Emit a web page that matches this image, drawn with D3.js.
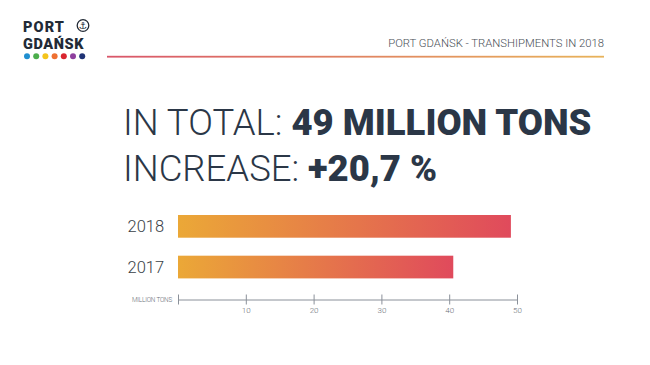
<!DOCTYPE html>
<html>
<head>
<meta charset="utf-8">
<script src="https://cdn.jsdelivr.net/npm/d3@7"></script>
<style>
  body { margin: 0; background: #fff; }
  svg { display: block; font-family: Roboto, "Open Sans", sans-serif; }
</style>
</head>
<body>
<svg id="chart"></svg>
<script>
// data
var years = ["2018", "2017"];
var tons = [49.1, 40.6];
var tickValues = [0, 10, 20, 30, 40, 50];
var dotColors = ["#1f8fd0", "#4cae4c", "#f4c41c", "#ee7032", "#d9252f", "#8e3f9e", "#1f3375"];

var svgWidth = 650;
var svgHeight = 365;

var svg = d3.select("#chart")
  .attr("width", svgWidth)
  .attr("height", svgHeight);

var defs = svg.append("defs");

// one gradient per bar, running over its own length
var barGrad = defs.append("linearGradient")
  .attr("id", "barGrad")
  .attr("x1", "0%").attr("x2", "100%").attr("y1", "0%").attr("y2", "0%");
barGrad.append("stop").attr("offset", "0%").attr("stop-color", "#eba837");
barGrad.append("stop").attr("offset", "100%").attr("stop-color", "#e04a5c");

var lineGrad = defs.append("linearGradient")
  .attr("id", "lineGrad")
  .attr("x1", "0%").attr("x2", "100%");
lineGrad.append("stop").attr("offset", "0%").attr("stop-color", "#d9566a");
lineGrad.append("stop").attr("offset", "100%").attr("stop-color", "#e8b35a");

// logo
var logo = svg.append("g");
logo.append("text")
  .attr("x", 23).attr("y", 31.5)
  .attr("font-size", 14.5).attr("font-weight", 900)
  .attr("letter-spacing", 1.1)
  .attr("fill", "#222a36")
  .text("PORT");
logo.append("text")
  .attr("x", 23).attr("y", 49)
  .attr("font-size", 14.5).attr("font-weight", 900)
  .attr("letter-spacing", 0.6)
  .attr("fill", "#222a36")
  .text("GDAŃSK");
logo.append("circle")
  .attr("cx", 83).attr("cy", 25.5).attr("r", 5.8)
  .attr("fill", "none").attr("stroke", "#222a36").attr("stroke-width", 1.3);
logo.append("text")
  .attr("x", 83).attr("y", 29.3)
  .attr("text-anchor", "middle")
  .attr("font-size", 9.5).attr("font-family", "DejaVu Sans")
  .attr("fill", "#222a36")
  .text("⚓");
logo.selectAll("circle.dot")
  .data(dotColors)
  .enter()
  .append("circle")
  .attr("class", "dot")
  .attr("cx", function(d, i) { return 27 + i * 9.2; })
  .attr("cy", 56.3)
  .attr("r", 3)
  .attr("fill", function(d) { return d; });

// header
svg.append("text")
  .attr("x", 604).attr("y", 46.5)
  .attr("text-anchor", "end")
  .attr("font-size", 11.3).attr("font-weight", 300)
  .attr("fill", "#4a4f57")
  .text("PORT GDAŃSK - TRANSHIPMENTS IN 2018");
svg.append("rect")
  .attr("x", 107).attr("y", 55.8)
  .attr("width", 497).attr("height", 1.8)
  .attr("fill", "url(#lineGrad)");

// big headline
var h1 = svg.append("text")
  .attr("x", 123).attr("y", 135)
  .attr("font-size", 36.5)
  .attr("fill", "#2b3747");
h1.append("tspan").attr("font-weight", 300).text("IN TOTAL: ");
h1.append("tspan").attr("font-weight", 900).text("49 MILLION TONS");

var h2 = svg.append("text")
  .attr("x", 123).attr("y", 181)
  .attr("font-size", 36.5)
  .attr("fill", "#2b3747");
h2.append("tspan").attr("font-weight", 300).text("INCREASE: ");
h2.append("tspan").attr("font-weight", 900).text("+20,7 %");

// bars
var xScale = d3.scaleLinear()
  .domain([0, 50])
  .range([178, 517]);

var yScale = d3.scaleBand()
  .domain(years)
  .range([215, 278.4])
  .paddingInner(0.442)
  .paddingOuter(0);

svg.selectAll("rect.bar")
  .data(years)
  .enter()
  .append("rect")
  .attr("class", "bar")
  .attr("x", xScale(0))
  .attr("y", function(d) { return yScale(d); })
  .attr("width", function(d, i) { return xScale(tons[i]) - xScale(0); })
  .attr("height", yScale.bandwidth())
  .attr("fill", "url(#barGrad)");

svg.selectAll("text.year")
  .data(years)
  .enter()
  .append("text")
  .attr("class", "year")
  .attr("x", 127.5)
  .attr("y", function(d) { return yScale(d) + yScale.bandwidth() / 2 + 5.8; })
  .attr("font-size", 16.5).attr("font-weight", 300)
  .attr("fill", "#3a3f47")
  .text(function(d) { return d; });

// axis
var axisY = 299.5;
var xAxis = d3.axisBottom(xScale)
  .tickValues(tickValues)
  .tickSizeInner(5)
  .tickSizeOuter(0)
  .tickPadding(3)
  .tickFormat(function(d) { return d === 0 ? "" : d; });

var axisG = svg.append("g")
  .attr("transform", "translate(0," + axisY + ")")
  .call(xAxis);
axisG.select(".domain").attr("stroke", "#8a9099").attr("stroke-width", 1);
axisG.selectAll(".tick line")
  .attr("y1", -5).attr("y2", 5)
  .attr("stroke", "#8a9099");
axisG.selectAll(".tick text")
  .attr("font-family", "Roboto, sans-serif")
  .attr("font-size", 8).attr("font-weight", 300)
  .attr("fill", "#6a6f77");

svg.append("text")
  .attr("x", 172).attr("y", axisY + 2.3)
  .attr("text-anchor", "end")
  .attr("font-size", 6.4).attr("font-weight", 300)
  .attr("letter-spacing", -0.2)
  .attr("fill", "#6a6f77")
  .text("MILLION TONS");
</script>
</body>
</html>
